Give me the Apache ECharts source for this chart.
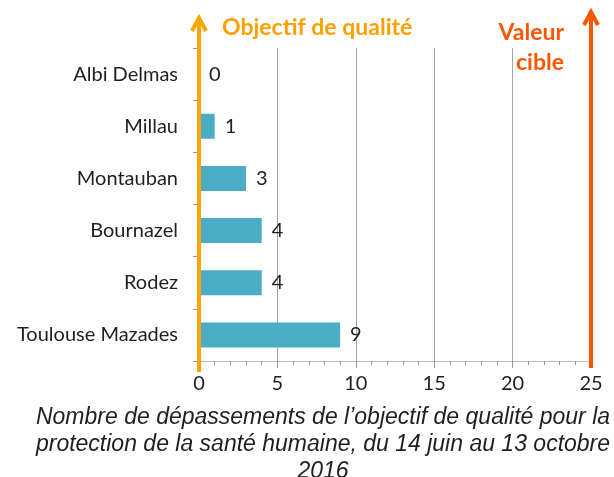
<!DOCTYPE html>
<html>
<head>
<meta charset="utf-8">
<script src="https://cdn.jsdelivr.net/npm/echarts@6/dist/echarts.min.js"></script>
<style>
  html, body { margin: 0; padding: 0; background: #fff; }
  #main { width: 614px; height: 477px; }
</style>
</head>
<body>
<div id="main"></div>
<script>
    // stations, haut vers bas
    var stations = ['Albi Delmas', 'Millau', 'Montauban', 'Bournazel', 'Rodez', 'Toulouse Mazades'];
    var depassements = [0, 1, 3, 4, 4, 9];
    var xMin = 0, xMax = 25, xStep = 5;
    var objectif = 0;   // objectif de qualité
    var cible = 25;     // valeur cible

    var txt = '#1f1f1f';
    var chart = echarts.init(document.getElementById('main'));

    var option = {
        animation: false,
        grid: { left: 199, right: 23, top: 48, bottom: 116, containLabel: false },
        title: [
            {
                text: 'Objectif de qualité',
                left: 217, top: 11,
                textStyle: { color: '#FFA000', fontFamily: 'Lato', fontWeight: 'bold', fontSize: 23 }
            },
            {
                text: 'Valeur\ncible',
                left: 559, top: 13,
                textAlign: 'right',
                textStyle: { color: '#FF5500', fontFamily: 'Lato', fontWeight: 'bold', fontSize: 23, lineHeight: 30, align: 'right' }
            },
            {
                text: 'Nombre de dépassements de l’objectif de qualité pour la\nprotection de la santé humaine, du 14 juin au 13 octobre\n2016',
                left: 318, top: 399,
                textAlign: 'center',
                textStyle: { color: txt, fontFamily: 'Liberation Sans', fontStyle: 'italic', fontWeight: 'normal', fontSize: 23, lineHeight: 27, align: 'center' }
            }
        ],
        xAxis: {
            type: 'value',
            min: xMin, max: xMax, interval: xStep,
            axisLine: { show: true, lineStyle: { color: '#bfbfbf', width: 1 } },
            axisTick: { show: true, length: 7, lineStyle: { color: '#999' } },
            minorTick: { show: true, splitNumber: 5, length: 4, lineStyle: { color: '#999' } },
            splitLine: { show: true, lineStyle: { color: '#a6a6a6', width: 1 } },
            axisLabel: { color: txt, fontFamily: 'Lato', fontSize: 20, margin: 13 }
        },
        yAxis: {
            type: 'category',
            data: stations,
            inverse: true,
            axisLine: { show: true, lineStyle: { color: '#999' } },
            axisTick: { show: true, length: 6, lineStyle: { color: '#999' } },
            axisLabel: { color: txt, fontFamily: 'Lato', fontSize: 20, margin: 21 }
        },
        series: [{
            type: 'bar',
            data: depassements,
            barWidth: 25,
            itemStyle: { color: '#4BACC6' },
            label: {
                show: true, position: 'right', distance: 10,
                color: txt, fontFamily: 'Lato', fontSize: 20
            }
        }]
    };
    chart.setOption(option);

    // flèches verticales (annotations)
    function fleche(xv, yBas, yHaut, couleur, w) {
        var x = chart.convertToPixel({ xAxisIndex: 0 }, xv);
        return [
            { type: 'line', z: 10, shape: { x1: x, y1: yBas, x2: x, y2: yHaut + 1 },
              style: { stroke: couleur, lineWidth: w } },
            { type: 'polyline', z: 10, shape: { points: [[x - 7, yHaut + 14], [x, yHaut + 1], [x + 7, yHaut + 14]] },
              style: { stroke: couleur, lineWidth: w, fill: null } }
        ];
    }
    chart.setOption({
        graphic: fleche(objectif, 372, 17, '#FFA500', 4).concat(fleche(cible, 368, 11, '#FF5500', 4))
    });
</script>
</body>
</html>
